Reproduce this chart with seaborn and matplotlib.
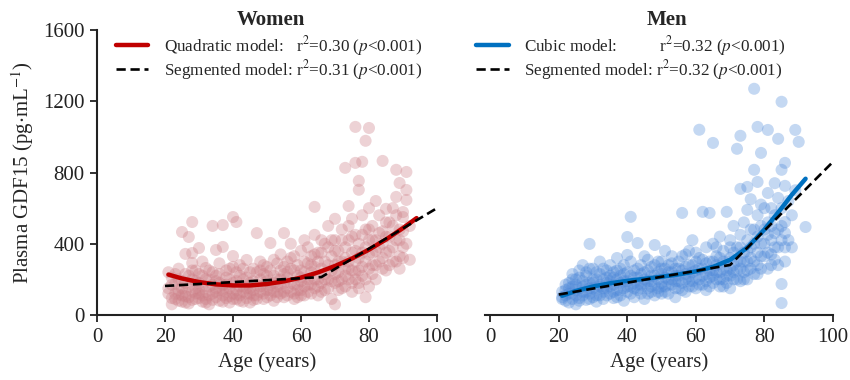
import matplotlib
matplotlib.use("Agg")
import matplotlib.pyplot as plt
import seaborn as sns

# scatter data (age in years, GDF15 in pg/mL)
women_age = [21, 22, 22, 23, 23, 24, 24, 24, 25, 25, 25, 26, 26, 26, 26, 27, 27, 27, 28, 28, 28, 28, 28,
             29, 29, 29, 30, 30, 30, 30, 31, 31, 31,
             32, 32, 32, 33, 33, 33, 34, 34, 34, 35, 35, 35, 35, 36, 36, 36, 37, 37, 37, 37, 38, 38, 38,
             39, 39, 39, 40, 40, 40, 40, 41, 41, 41, 41,
             42, 42, 42, 43, 43, 43, 44, 44, 44, 45, 45, 45, 46, 46, 46, 47, 47, 47, 48, 48, 48, 49, 49, 49,
             50, 50, 50, 51, 51, 51, 52, 52, 52,
             53, 53, 53, 54, 54, 54, 55, 55, 55, 55, 56, 56, 56, 57, 57, 57, 58, 58, 58, 59, 59, 59, 60, 60, 60, 60,
             61, 61, 61, 62, 62, 62, 63, 63, 63, 64, 64, 64, 64, 65, 65, 65, 66, 66, 66, 67, 67, 67, 68, 68, 68,
             69, 69, 69, 70, 70, 70, 70, 70,
             71, 71, 71, 72, 72, 72, 73, 73, 73, 73, 74, 74, 74, 74, 75, 75, 75, 75, 76, 76, 76, 76, 76,
             77, 77, 77, 77, 77, 78, 78, 78, 78, 79, 79, 79, 79, 80, 80, 80, 80, 80,
             81, 81, 81, 82, 82, 82, 83, 83, 84, 84, 84, 85, 85, 85, 86, 86, 87, 87, 88, 88, 88, 89, 89, 89,
             90, 90, 90, 91, 91, 91, 91, 92, 92]
women_gdf15 = [150, 95, 210, 120, 175, 80, 140, 260, 110, 190, 466, 70, 130, 343, 230, 100, 160, 438, 85, 200, 292, 348, 522,
               120, 150, 250, 95, 180, 376, 140, 75, 220, 110,
               264, 130, 90, 160, 200, 60, 120, 240, 500, 100, 150, 365, 190, 80, 140, 230, 505, 382, 110, 170, 95, 210, 130,
               260, 150, 70, 331, 120, 180, 550, 522, 90, 240, 140,
               160, 110, 280, 200, 75, 130, 309, 150, 95, 180, 240, 120, 140, 260, 85, 170, 110, 460, 200, 130, 300, 90, 160, 230,
               140, 190, 270, 404, 110, 170, 220, 130, 80,
               160, 290, 200, 120, 250, 340, 180, 100, 460, 230, 150, 300, 210, 130, 260, 400, 170, 90, 330, 220, 140, 280, 190, 360, 110, 250,
               160, 300, 420, 200, 130, 380, 240, 170, 330, 607, 150, 270, 450, 200, 110, 350, 260, 180, 420, 300, 140, 230, 380, 200, 500,
               250, 90, 330, 180, 420, 60, 280, 540,
               240, 360, 140, 300, 480, 200, 826, 260, 380, 160, 612, 420, 300, 200, 540, 350, 250, 130, 1056, 854, 450, 300, 200,
               753, 703, 400, 250, 180, 860, 560, 350, 220, 978, 480, 300, 100, 1050, 600, 420, 260, 160,
               500, 350, 230, 640, 420, 280, 560, 380, 865, 470, 320, 596, 440, 250, 520, 360, 600, 300, 815, 663, 420, 741, 480, 330,
               578, 380, 550, 803, 702, 646, 400, 310, 500]
# denser part of the women cloud
women_age_b = [21, 21, 22, 22, 23, 23, 24, 24, 25, 25, 26, 26, 27, 27, 28, 28, 29, 29, 30, 30, 31, 31, 32, 32,
               33, 33, 34, 34, 35, 35, 36, 36, 37, 37, 38, 38, 39, 39, 40, 40, 41, 41, 42, 42, 43, 43, 44, 44,
               45, 45, 46, 46, 47, 47, 48, 48, 49, 49, 50, 50, 51, 51, 52, 52, 53, 53, 54, 54, 55, 55, 56, 56,
               57, 57, 58, 58, 59, 59, 60, 60, 61, 61, 62, 62, 63, 63, 64, 64, 65, 65, 66, 66, 67, 67, 68, 68,
               69, 69, 70, 70, 71, 71, 72, 72, 73, 73, 74, 74, 75, 75, 76, 76, 77, 77, 78, 78, 79, 79, 80, 80,
               81, 81, 82, 82, 83, 83, 84, 84, 85, 85, 86, 86, 87, 87, 88, 88, 89, 89, 90, 90]
women_gdf15_b = [120, 240, 170, 60, 90, 230, 200, 115, 75, 150, 180, 105, 220, 65, 130, 250, 90, 190, 230, 120, 160, 300, 200, 70,
                 110, 250, 85, 170, 220, 130, 180, 290, 75, 140, 250, 170, 105, 200, 90, 270, 190, 115, 220, 80, 160, 260, 210, 120,
                 70, 150, 190, 110, 240, 90, 160, 250, 120, 280, 100, 220, 250, 140, 180, 310, 100, 130, 200, 160, 270, 130, 110, 240,
                 180, 320, 250, 120, 170, 100, 210, 140, 240, 110, 290, 170, 120, 280, 200, 340, 160, 300, 130, 350, 200, 400, 150, 280,
                 190, 420, 230, 360, 190, 300, 150, 420, 220, 320, 260, 500, 180, 440, 360, 240, 320, 150, 270, 450, 200, 380, 340, 480,
                 280, 420, 360, 200, 300, 460, 400, 260, 350, 520, 280, 440, 380, 500, 300, 560, 420, 260, 470, 320]

men_age = [21, 22, 22, 23, 23, 24, 24, 24, 25, 25, 25, 26, 26, 26, 27, 27, 27, 28, 28, 28, 29, 29, 29, 29, 30, 30, 30, 31, 31, 31,
           32, 32, 32, 33, 33, 33, 34, 34, 34, 35, 35, 35, 36, 36, 36, 37, 37, 37, 38, 38, 38, 39, 39, 39, 40, 40, 40, 40, 41, 41, 41,
           42, 42, 42, 43, 43, 43, 44, 44, 44, 45, 45, 45, 46, 46, 46, 47, 47, 47, 48, 48, 48, 49, 49, 49, 50, 50, 50, 50,
           51, 51, 51, 52, 52, 52, 53, 53, 53, 54, 54, 54, 55, 55, 55, 56, 56, 56, 57, 57, 57, 58, 58, 58, 59, 59, 59, 60, 60, 60,
           61, 61, 61, 62, 62, 62, 63, 63, 63, 64, 64, 64, 65, 65, 65, 65, 66, 66, 66, 67, 67, 67, 68, 68, 68, 69, 69, 69, 70, 70, 70, 70,
           71, 71, 71, 72, 72, 72, 73, 73, 73, 73, 73, 74, 74, 74, 75, 75, 75, 75, 75, 76, 76, 76, 77, 77, 77, 77,
           78, 78, 78, 78, 78, 79, 79, 79, 79, 80, 80,
           81, 81, 81, 81, 82, 82, 82, 83, 83, 83, 84, 84, 84, 85, 85, 85, 85, 85, 86, 86, 86, 86, 87, 87, 88, 88, 89, 89, 90, 92]
men_gdf15 = [100, 140, 80, 180, 120, 90, 160, 230, 110, 200, 60, 150, 250, 95, 130, 190, 280, 85, 170, 220, 399, 120, 260, 150, 100, 200, 180, 140, 240, 75,
             160, 300, 110, 200, 130, 90, 180, 250, 150, 120, 220, 280, 170, 95, 240, 320, 140, 200, 110, 260, 180, 150, 230, 80, 438, 337, 190, 130, 551, 220, 160,
             100, 250, 180, 404, 140, 210, 170, 280, 120, 200, 90, 240, 150, 310, 190, 220, 130, 270, 393, 170, 110, 240, 200, 150, 180, 300, 120, 230,
             260, 160, 360, 200, 120, 280, 240, 170, 330, 190, 100, 260, 300, 220, 150, 573, 250, 180, 200, 340, 130, 280, 220, 160, 240, 420, 190, 300, 150, 250,
             1040, 200, 320, 579, 260, 170, 380, 230, 140, 573, 300, 210, 966, 250, 180, 400, 330, 200, 280, 440, 240, 160, 360, 300, 200, 579, 250, 180, 420, 320, 220, 150,
             500, 280, 200, 933, 380, 250, 1006, 708, 450, 300, 190, 520, 350, 240, 719, 590, 420, 300, 200, 650, 380, 260, 1270, 815, 480, 300,
             1056, 747, 560, 350, 230, 910, 620, 400, 260, 480, 330,
             1039, 685, 520, 350, 600, 420, 280, 740, 460, 310, 989, 657, 380, 1197, 815, 174, 67, 500, 854, 725, 522, 300, 640, 420, 560, 380, 1039, 700, 972, 494]
# denser part of the men cloud
men_age_b = [21, 21, 22, 22, 23, 23, 24, 24, 25, 25, 26, 26, 27, 27, 28, 28, 29, 29, 30, 30, 31, 31, 32, 32,
             33, 33, 34, 34, 35, 35, 36, 36, 37, 37, 38, 38, 39, 39, 40, 40, 41, 41, 42, 42, 43, 43, 44, 44,
             45, 45, 46, 46, 47, 47, 48, 48, 49, 49, 50, 50, 51, 51, 52, 52, 53, 53, 54, 54, 55, 55, 56, 56,
             57, 57, 58, 58, 59, 59, 60, 60, 61, 61, 62, 62, 63, 63, 64, 64, 65, 65, 66, 66, 67, 67, 68, 68,
             69, 69, 70, 70, 71, 71, 72, 72, 73, 73, 74, 74, 75, 75, 76, 76, 77, 77, 78, 78, 79, 79, 80, 80,
             81, 81, 82, 82, 83, 83, 84, 84, 85, 85, 86, 86]
men_gdf15_b = [130, 90, 110, 170, 150, 70, 120, 200, 170, 140, 80, 210, 110, 160, 240, 130, 180, 90, 150, 260, 200, 110, 170, 230,
               260, 150, 110, 210, 160, 190, 210, 130, 250, 100, 140, 220, 190, 280, 160, 240, 120, 300, 210, 150, 170, 260, 230, 150,
               180, 330, 120, 250, 190, 160, 280, 220, 130, 300, 160, 260, 210, 130, 240, 170, 200, 290, 220, 150, 260, 190, 140, 330,
               270, 230, 190, 360, 160, 280, 210, 350, 260, 170, 220, 310, 290, 190, 250, 160, 300, 220, 240, 380, 200, 320, 260, 160,
               300, 220, 260, 380, 350, 240, 200, 300, 260, 380, 300, 200, 250, 360, 320, 480, 230, 400, 280, 440, 330, 500, 400, 600,
               260, 450, 500, 340, 380, 560, 480, 280, 420, 600, 380, 460]

# fitted model curves, values read at a few ages
women_quad_age = [21, 25, 30, 35, 40, 45, 50, 55, 60, 65, 70, 75, 80, 85, 90, 94]
women_quad = [227, 205, 185, 172, 166, 166, 174, 189, 210, 239, 275, 317, 367, 424, 488, 544]
women_seg_age = [20, 66, 100]
women_seg = [163, 213, 600]

men_cubic_age = [21, 25, 30, 35, 40, 45, 50, 55, 60, 65, 70, 75, 80, 85, 88, 92]
men_cubic = [108, 135, 160, 178, 192, 203, 215, 228, 245, 270, 310, 378, 480, 600, 675, 765]
men_seg_age = [20, 70, 100]
men_seg = [115, 281, 860]

x_ticks = [0, 20, 40, 60, 80, 100]
y_ticks = [0, 400, 800, 1200, 1600]

sns.set_style("ticks")
plt.rcParams["font.family"] = ["Liberation Serif", "DejaVu Serif"]
plt.rcParams["mathtext.fontset"] = "stix"
plt.rcParams["axes.edgecolor"] = "#222222"
plt.rcParams["xtick.color"] = "#222222"
plt.rcParams["ytick.color"] = "#222222"

fig = plt.figure(figsize=(8.5, 3.8), dpi=100)
ax_w = fig.add_axes([97 / 850, 65 / 380, 340 / 850, 285 / 380])
ax_m = fig.add_axes([485 / 850, 65 / 380, 348 / 850, 285 / 380])

# Women
sns.scatterplot(x=women_age + women_age_b, y=women_gdf15 + women_gdf15_b, ax=ax_w,
                s=75, color="#cd7f87", alpha=0.35, edgecolor="none")
sns.lineplot(x=women_quad_age, y=women_quad, ax=ax_w, color="#c00000", lw=3.2,
             label=r"Quadratic model:   r$^2$=0.30 ($p$<0.001)")
sns.lineplot(x=women_seg_age, y=women_seg, ax=ax_w, color="black", lw=1.9,
             linestyle=(0, (3.5, 1.8)),
             label=r"Segmented model: r$^2$=0.31 ($p$<0.001)")

# Men
sns.scatterplot(x=men_age + men_age_b, y=men_gdf15 + men_gdf15_b, ax=ax_m,
                s=75, color="#4a86d8", alpha=0.32, edgecolor="none")
sns.lineplot(x=men_cubic_age, y=men_cubic, ax=ax_m, color="#0070c0", lw=3.2,
             label=r"Cubic model:          r$^2$=0.32 ($p$<0.001)")
sns.lineplot(x=men_seg_age, y=men_seg, ax=ax_m, color="black", lw=1.9,
             linestyle=(0, (3.5, 1.8)),
             label=r"Segmented model: r$^2$=0.32 ($p$<0.001)")

for ax, title, x0, tx in [(ax_w, "Women", 0, 0.51), (ax_m, "Men", -1.5, 0.523)]:
    ax.set_xlim(x0, 100)
    ax.set_ylim(0, 1600)
    ax.set_xticks(x_ticks)
    ax.set_yticks(y_ticks)
    ax.tick_params(labelsize=15, length=5, width=1.3, pad=4)
    ax.set_xlabel("Age (years)", fontsize=15, labelpad=4)
    ax.set_title(title, fontsize=15, fontweight="bold", pad=3, x=tx)
    for sp in ax.spines.values():
        sp.set_linewidth(1.5)
    ax.spines["top"].set_visible(False)
    ax.spines["right"].set_visible(False)

ax_w.set_ylabel(r"Plasma GDF15 (pg$\cdot$mL$^{-1}$)", fontsize=15, labelpad=5)
ax_m.spines["left"].set_visible(False)
ax_m.tick_params(axis="y", left=False, labelleft=False)
ax_m.set_ylabel("")

leg_kw = dict(loc="upper left", frameon=False, fontsize=12.3, handlelength=1.9,
              handletextpad=0.9, labelspacing=0.0, borderaxespad=0.0)
ax_w.legend(bbox_to_anchor=(0.035, 1.01), **leg_kw)
ax_m.legend(bbox_to_anchor=(-0.045, 1.01), **leg_kw)

fig.savefig("out.png", dpi=100)
